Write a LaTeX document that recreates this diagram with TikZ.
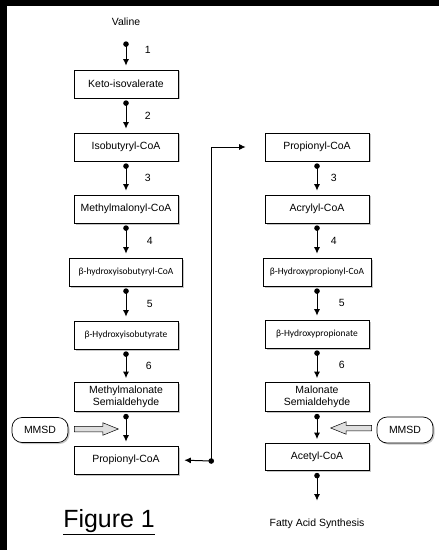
\documentclass[tikz,border=0pt]{standalone}
\usepackage{fontspec}
\setmainfont{Liberation Sans}
\newfontfamily\greekfont{Carlito}
\usetikzlibrary{arrows.meta,positioning,calc,shadows,shapes.arrows}
\tikzstyle{compound}=[draw,fill=white,line width=0.7pt,minimum width=104bp,minimum height=28bp,inner sep=1pt,align=center,font=\fontsize{10.5}{11.5}\selectfont,drop shadow={shadow xshift=1.5bp,shadow yshift=-1.5bp,opacity=0.45}]
\tikzstyle{greek}=[font=\greekfont\fontsize{9.5}{11}\selectfont]
\tikzstyle{enzyme}=[draw,fill=white,line width=0.7pt,rounded corners=10bp,minimum width=56bp,minimum height=25bp,font=\fontsize{10.5}{12}\selectfont,drop shadow={shadow xshift=1.5bp,shadow yshift=-1.5bp,opacity=0.45}]
\tikzstyle{reaction}=[{Circle[length=5.5bp]}-{Latex[length=6.5bp,width=6bp]},line width=1pt,shorten <=2bp,shorten >=4bp]
\tikzstyle{fatarrow}=[single arrow,draw,line width=0.5pt,fill=gray!25,inner sep=2.5bp,single arrow head extend=3.5bp,single arrow tip angle=44,minimum height=44bp]
\tikzstyle{num}=[font=\fontsize{10.5}{12}\selectfont]

\begin{document}
\begin{tikzpicture}[x=1bp,y=-1bp]
  \useasboundingbox (0,0) rectangle (439,550);
  \fill[black] (0,0) rectangle (439,6);
  \fill[black] (0,0) rectangle (7,550);

  \node [num] (valine) at (126,22) {Valine};
  \node [compound] (lketo) at (126,84) {Keto-isovalerate};
  \node [compound] (liso) at (126,147) {Isobutyryl-CoA};
  \node [compound] (lmmal) at (126,209) {Methylmalonyl-CoA};
  \node [compound,greek,minimum width=113bp] (lhibc) at (126,272) {β-hydroxyisobutyryl-CoA};
  \node [compound,greek] (lhib) at (126,335) {β-Hydroxyisobutyrate};
  \node [compound,minimum height=29bp] (lmsa) at (126,397) {Methylmalonate\\Semialdehyde};
  \node [compound] (lprop) at (126,460) {Propionyl-CoA};
  \node [enzyme] (lmmsd) at (40,430) {MMSD};

  \node [compound] (rprop) at (317,147) {Propionyl-CoA};
  \node [compound] (racr) at (317,209) {Acrylyl-CoA};
  \node [compound,greek,minimum width=108bp] (rhpc) at (317,272) {β-Hydroxypropionyl-CoA};
  \node [compound,greek] (rhp) at (317,334) {β-Hydroxypropionate};
  \node [compound,minimum height=29bp] (rmsa) at (317,397) {Malonate\\Semialdehyde};
  \node [compound,minimum height=27bp] (racet) at (317,457) {Acetyl-CoA};
  \node [enzyme,minimum height=26bp] (rmmsd) at (405,430) {MMSD};
  \node [num] (fas) at (317,524) {Fatty Acid Synthesis};

  \node [font=\fontsize{25}{28}\selectfont] (fig) at (109,522) {\underline{Figure 1}};

  \draw [reaction,shorten <=12bp] (valine) -- (lketo) node [num,midway,right=15bp] {1};
  \draw [reaction] (lketo) -- (liso) node [num,midway,right=15bp] {2};
  \draw [reaction] (liso) -- (lmmal) node [num,midway,right=15bp] {3};
  \draw [reaction] (lmmal) -- (lhibc) node [num,midway,right=17bp] {4};
  \draw [reaction] (lhibc) -- (lhib) node [num,midway,right=17bp] {5};
  \draw [reaction] (lhib) -- (lmsa) node [num,midway,right=16bp] {6};
  \draw [reaction] (lmsa) -- (lprop);

  \draw [reaction] (rprop) -- (racr) node [num,midway,right=10bp] {3};
  \draw [reaction] (racr) -- (rhpc) node [num,midway,right=10bp] {4};
  \draw [reaction] (rhpc) -- (rhp) node [num,midway,right=18bp] {5};
  \draw [reaction] (rhp) -- (rmsa) node [num,midway,right=18bp] {6};
  \draw [reaction] (rmsa) -- (racet);
  \draw [reaction,shorten >=15bp] (racet) -- (fas);

  \coordinate (junction) at (211,461);
  \draw [reaction,shorten <=-3bp,shorten >=6bp] (junction) -- (lprop.east);
  \draw [-{Latex[length=6.5bp,width=6bp]},line width=0.9pt,shorten >=19bp] (junction) |- (rprop.west);

  \node [fatarrow,anchor=tip] (lblock) at (119,429) {};
  \node [fatarrow,anchor=tip,shape border rotate=180,minimum height=41bp] (rblock) at (330,428) {};
\end{tikzpicture}
\end{document}
